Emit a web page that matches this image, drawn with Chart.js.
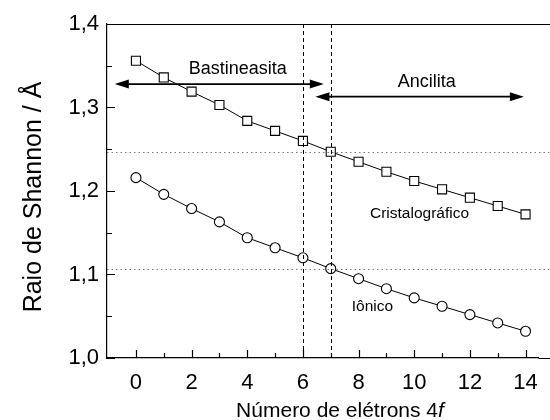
<!DOCTYPE html>
<html>
<head>
<meta charset="utf-8">
<script src="https://cdn.jsdelivr.net/npm/chart.js@4/dist/chart.umd.min.js"></script>
<style>
  html, body { margin: 0; padding: 0; background: #fff; }
  #wrap { width: 550px; height: 420px; }
</style>
</head>
<body>
<div id="wrap"><canvas id="c" width="550" height="420"></canvas></div>
<script>
// ---- data ----
const electrons = [0, 1, 2, 3, 4, 5, 6, 7, 8, 9, 10, 11, 12, 13, 14];
const crystalRadius = [1.356, 1.336, 1.319, 1.303, 1.284, 1.272, 1.260, 1.247, 1.235, 1.223, 1.212, 1.202, 1.192, 1.182, 1.172];
const ionicRadius = [1.216, 1.196, 1.179, 1.163, 1.144, 1.132, 1.120, 1.107, 1.095, 1.083, 1.072, 1.062, 1.052, 1.042, 1.032];
const xTickValues = [0, 2, 4, 6, 8, 10, 12, 14];
const xTickLabels = ['0', '2', '4', '6', '8', '10', '12', '14'];
const yTickValues = [1.0, 1.1, 1.2, 1.3, 1.4];
const yTickLabels = ['1,0', '1,1', '1,2', '1,3', '1,4'];
const refLinesY = [1.247, 1.107];
const refLinesX = [6, 7];
const phaseNames = ['Bastineasita', 'Ancilita'];
const phaseFrom = [-0.76, 6.45];
const phaseTo = [6.75, 13.94];
const phaseLevel = [1.328, 1.313];
const phaseLabelX = [3.66, 10.45];
const phaseLabelY = [1.346, 1.330];
const seriesNames = ['Cristalográfico', 'Iônico'];
const seriesLabelX = [10.19, 8.5];
const seriesLabelY = [1.1725, 1.061];
const xTitleMain = 'Número de elétrons 4';
const xTitleItalic = 'f';
const yTitle = 'Raio de Shannon / Å';

const FONT = "'Liberation Sans', Arial, sans-serif";

const decor = {
  id: 'decor',
  afterDatasetsDraw(chart) {
    const ctx = chart.ctx;
    const xs = chart.scales.x, ys = chart.scales.y;
    const a = chart.chartArea;
    ctx.save();
    // top border
    ctx.strokeStyle = '#000';
    ctx.lineWidth = 1.2;
    ctx.beginPath();
    ctx.moveTo(a.left, a.top + 0.5);
    ctx.lineTo(chart.width, a.top + 0.5);
    ctx.moveTo(a.right, a.bottom + 0.5);
    ctx.lineTo(chart.width, a.bottom + 0.5);
    ctx.stroke();
    // inward ticks
    ctx.beginPath();
    for (let v = 0; v <= 14; v += 1) {
      const px = Math.round(xs.getPixelForValue(v)) + 0.5;
      const len = (v % 2 === 0) ? 8 : 5;
      ctx.moveTo(px, a.bottom);
      ctx.lineTo(px, a.bottom - len);
    }
    for (let k = 0; k <= 8; k++) {
      const v = 1.0 + k * 0.05;
      const py = Math.round(ys.getPixelForValue(v)) + 0.5;
      const len = (k % 2 === 0) ? 8 : 5;
      ctx.moveTo(a.left, py);
      ctx.lineTo(a.left + len, py);
    }
    ctx.stroke();
    // dotted horizontal lines
    ctx.strokeStyle = '#777';
    ctx.lineWidth = 1.2;
    ctx.setLineDash([1.5, 3]);
    refLinesY.forEach(v => {
      const py = Math.round(ys.getPixelForValue(v)) + 0.5;
      ctx.beginPath();
      ctx.moveTo(a.left, py);
      ctx.lineTo(chart.width, py);
      ctx.stroke();
    });
    // dashed vertical lines
    ctx.strokeStyle = '#000';
    ctx.lineWidth = 1;
    ctx.setLineDash([4, 3]);
    refLinesX.forEach(v => {
      const px = Math.round(xs.getPixelForValue(v)) + 0.5;
      ctx.beginPath();
      ctx.moveTo(px, a.top);
      ctx.lineTo(px, a.bottom);
      ctx.stroke();
    });
    ctx.setLineDash([]);
    // arrows
    function head(x, y, dir) {
      const L = 14, W = 4.5;
      ctx.beginPath();
      ctx.moveTo(x, y);
      ctx.lineTo(x - dir * L, y - W);
      ctx.lineTo(x - dir * L, y + W);
      ctx.closePath();
      ctx.fill();
    }
    ctx.fillStyle = '#000';
    ctx.lineWidth = 1.6;
    for (let i = 0; i < phaseNames.length; i++) {
      const x1 = xs.getPixelForValue(phaseFrom[i]);
      const x2 = xs.getPixelForValue(phaseTo[i]);
      const py = ys.getPixelForValue(phaseLevel[i]);
      ctx.beginPath();
      ctx.moveTo(x1 + 8, py);
      ctx.lineTo(x2 - 8, py);
      ctx.stroke();
      head(x1, py, -1);
      head(x2, py, 1);
      ctx.font = '18px ' + FONT;
      ctx.textAlign = 'center';
      ctx.textBaseline = 'middle';
      ctx.fillText(phaseNames[i], xs.getPixelForValue(phaseLabelX[i]), ys.getPixelForValue(phaseLabelY[i]));
    }
    ctx.font = '15.5px ' + FONT;
    for (let i = 0; i < seriesNames.length; i++) {
      ctx.fillText(seriesNames[i], xs.getPixelForValue(seriesLabelX[i]), ys.getPixelForValue(seriesLabelY[i]));
    }
    // x title with italic f
    ctx.textBaseline = 'alphabetic';
    ctx.textAlign = 'left';
    ctx.font = '21px ' + FONT;
    const w1 = ctx.measureText(xTitleMain).width;
    ctx.font = 'italic 21px ' + FONT;
    const w2 = ctx.measureText(xTitleItalic).width;
    const tx = 340 - (w1 + w2) / 2;
    const ty = 416.5;
    ctx.font = '21px ' + FONT;
    ctx.fillText(xTitleMain, tx, ty);
    ctx.font = 'italic 21px ' + FONT;
    ctx.fillText(xTitleItalic, tx + w1, ty);
    // y title
    ctx.save();
    ctx.translate(41, 197);
    ctx.rotate(-Math.PI / 2);
    ctx.font = '25px ' + FONT;
    ctx.textAlign = 'center';
    ctx.fillText(yTitle, 0, 0);
    ctx.restore();
    ctx.restore();
  }
};

new Chart(document.getElementById('c'), {
  type: 'line',
  data: {
    datasets: [
      {
        label: seriesNames[0],
        data: electrons.map((x, i) => ({ x: x, y: crystalRadius[i] })),
        borderColor: '#000', borderWidth: 1,
        pointStyle: 'rect', pointRadius: 6.4,
        pointBackgroundColor: '#fff', pointBorderColor: '#000', pointBorderWidth: 1.1
      },
      {
        label: seriesNames[1],
        data: electrons.map((x, i) => ({ x: x, y: ionicRadius[i] })),
        borderColor: '#000', borderWidth: 1,
        pointStyle: 'circle', pointRadius: 5,
        pointBackgroundColor: '#fff', pointBorderColor: '#000', pointBorderWidth: 1.1
      }
    ]
  },
  options: {
    responsive: false,
    animation: false,
    devicePixelRatio: 1,
    layout: { padding: { top: 24, right: 0, left: 0, bottom: 0 } },
    plugins: { legend: { display: false }, tooltip: { enabled: false } },
    scales: {
      x: {
        type: 'linear', min: -1.04, max: 14.47,
        afterBuildTicks: s => { s.ticks = xTickValues.map(v => ({ value: v })); },
        afterFit: s => { s.height = 62; },
        grid: { display: false, drawTicks: false },
        border: { display: true, color: '#000', width: 1.2 },
        ticks: {
          padding: 12, color: '#000', font: { family: FONT, size: 22 },
          maxRotation: 0, autoSkip: false,
          callback: (v) => { const i = xTickValues.indexOf(v); return i >= 0 ? xTickLabels[i] : ''; }
        },
        title: { display: false }
      },
      y: {
        type: 'linear', min: 1.0, max: 1.4,
        afterBuildTicks: s => { s.ticks = yTickValues.map(v => ({ value: v })); },
        afterFit: s => { s.width = 107; },
        grid: { display: false, drawTicks: false },
        border: { display: true, color: '#000', width: 1.2 },
        ticks: {
          padding: 8, color: '#000', font: { family: FONT, size: 22 },
          callback: (v) => { const i = yTickValues.findIndex(t => Math.abs(t - v) < 1e-9); return i >= 0 ? yTickLabels[i] : ''; }
        },
        title: { display: false }
      }
    }
  },
  plugins: [decor]
});
</script>
</body>
</html>
